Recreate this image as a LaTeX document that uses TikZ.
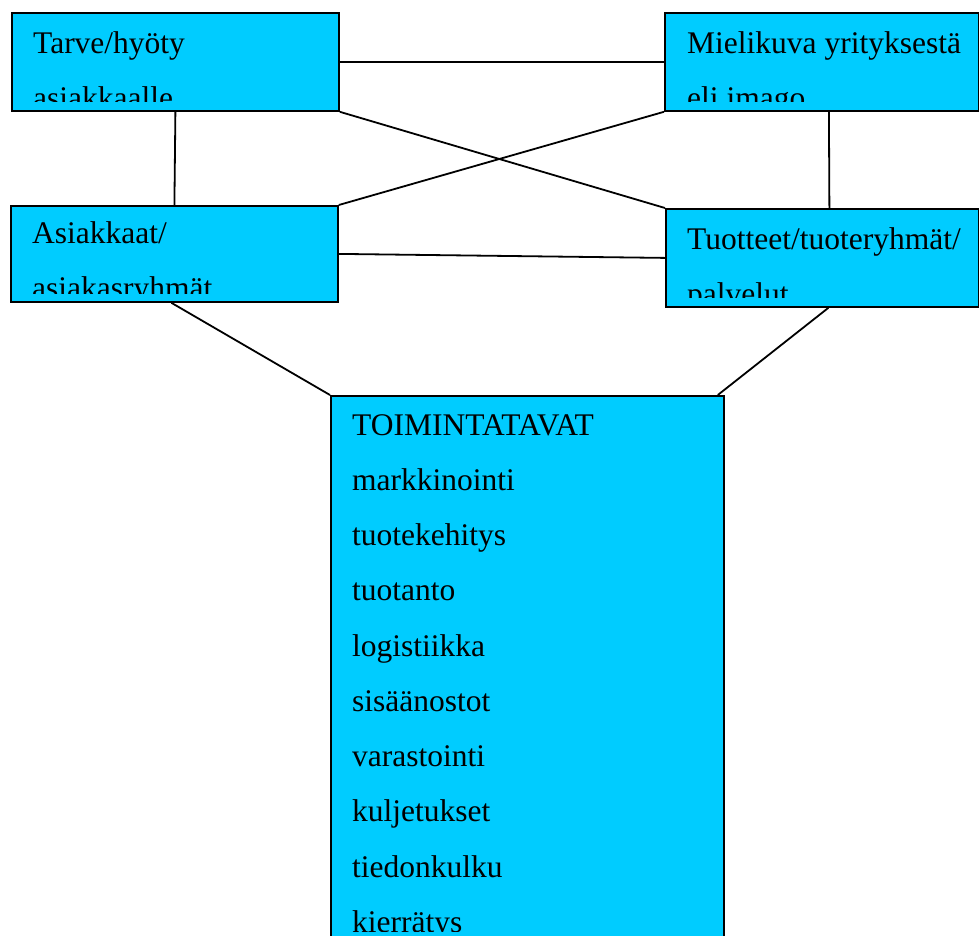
\documentclass[tikz,border=0pt]{standalone}
\usepackage{fontspec}
\setmainfont{Liberation Serif}
\definecolor{boxcyan}{HTML}{00CCFF}
\begin{document}
\begin{tikzpicture}[x=1pt,y=-1pt,
  box/.style={draw=black, line width=1.8pt, fill=boxcyan, rectangle, inner sep=0pt, anchor=north west},
  conn/.style={draw=black, line width=1.8pt},
  lbl/.style={anchor=base west, inner sep=0pt, font=\fontsize{31.5}{55}\selectfont}]
\clip (0,0) rectangle (979,935);
% boxes
\node[box, minimum width=327pt, minimum height=98pt] (A) at (11,12) {};
\node[box, minimum width=314pt, minimum height=98pt] (B) at (664,12) {};
\node[box, minimum width=327pt, minimum height=96pt] (C) at (10,205) {};
\node[box, minimum width=313pt, minimum height=98pt] (D) at (665,208) {};
\node[box, minimum width=393pt, minimum height=600pt] (E) at (330,395) {};
% connectors
\draw[conn] (A.east) -- (B.west);
\draw[conn] (A.south) -- (C.north);
\draw[conn] ([xshift=7pt]B.south) -- ([xshift=7pt]D.north);
\draw[conn] (C.east) -- (D.west);
\draw[conn] (A.south east) -- (D.north west);
\draw[conn] (C.north east) -- (B.south west);
\draw[conn] ([xshift=-3pt]C.south) -- (E.north west);
\draw[conn] ([xshift=6pt]D.south) -- ([xshift=-7pt]E.north east);
% texts
\begin{scope}
  \clip (A.north west) rectangle ([yshift=10pt]A.south east);
  \node[lbl] (a1) at (33,53) {Tarve/hyöty};
  \node[lbl] (a2) at (33,108) {asiakkaalle};
\end{scope}
\begin{scope}
  \clip (B.north west) rectangle ([yshift=10pt]B.south east);
  \node[lbl] (b1) at (687,53) {Mielikuva yrityksestä};
  \node[lbl] (b2) at (687,108) {eli imago};
\end{scope}
\begin{scope}
  \clip (C.north west) rectangle ([yshift=9pt]C.south east);
  \node[lbl] (c1) at (32,243) {Asiakkaat/};
  \node[lbl] (c2) at (32,298) {asiakasryhmät};
\end{scope}
\begin{scope}
  \clip (D.north west) rectangle ([yshift=10pt]D.south east);
  \node[lbl] (d1) at (687,249) {Tuotteet/tuoteryhmät/};
  \node[lbl] (d2) at (687,304) {palvelut};
\end{scope}
\begin{scope}
  \clip (E.north west) rectangle (723,931);
  \foreach \t [count=\i from 0] in {TOIMINTATAVAT,markkinointi,tuotekehitys,tuotanto,logistiikka,sisäänostot,varastointi,kuljetukset,tiedonkulku,kierrätys}
    \node[lbl] (e\i) at (352,435+55.25*\i) {\t};
\end{scope}
\end{tikzpicture}
\end{document}
